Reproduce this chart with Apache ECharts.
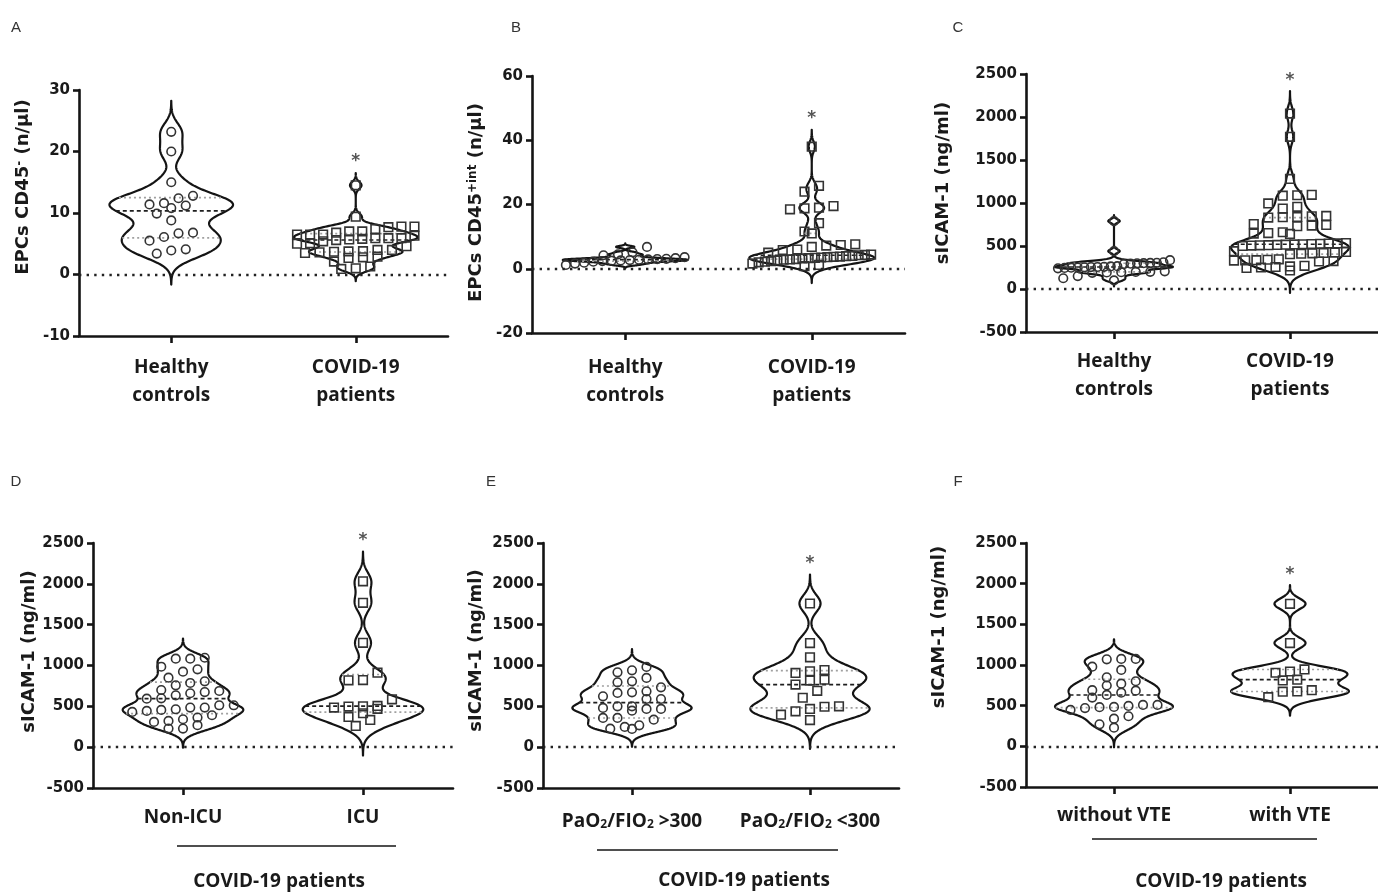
<!DOCTYPE html>
<html>
<head>
<meta charset="utf-8">
<title>EPCs and sICAM-1 violin plots</title>
<script src="https://cdn.jsdelivr.net/npm/echarts@6/dist/echarts.min.js"></script>
<style>
  html, body { margin: 0; padding: 0; background: #ffffff; }
  #chart { width: 1378px; height: 893px; }
</style>
</head>
<body>
<div id="chart"></div>
<script>
// ---------------------------------------------------------------
// Measured values (one array per group)
// ---------------------------------------------------------------
const panelLetters = ['A', 'B', 'C', 'D', 'E', 'F'];

const catsControlVsCovid = ['Healthy\ncontrols', 'COVID-19\npatients'];
const catsIcu = ['Non-ICU', 'ICU'];
const catsPaO2 = ['PaO₂/FIO₂ >300', 'PaO₂/FIO₂ <300'];
const catsVte = ['without VTE', 'with VTE'];
const subgroupCaption = 'COVID-19 patients';

// Panel A: EPCs CD45- (n/µl)
const epcNegHealthy = [23.2, 20.0, 15.0, 12.8, 12.4, 11.6, 11.4, 11.2, 10.8, 9.9, 8.8, 6.8, 6.7, 6.1, 5.5, 4.1, 3.9, 3.4];
const epcNegCovid = [14.5, 9.4, 7.8, 7.8, 7.7, 7.4, 7.0, 7.0, 6.8, 6.5, 6.5, 6.5, 6.3, 5.9, 5.9, 5.9, 5.8, 5.7, 5.6, 5.4, 5.1, 5.0, 4.6, 4.0, 4.0, 3.8, 3.75, 3.7, 3.6, 3.5, 2.9, 2.8, 2.7, 2.1, 1.3, 1.0, 0.9];

// Panel B: EPCs CD45+int (n/µl)
const epcIntHealthy = [6.8, 5.1, 4.5, 4.2, 3.6, 3.3, 3.1, 3.0, 2.9, 2.8, 2.7, 2.6, 2.5, 2.4, 2.2, 1.9, 1.6, 1.2];
const epcIntCovid = [38.0, 25.8, 24.0, 19.5, 19.0, 18.8, 18.5, 14.2, 11.6, 11.0, 7.6, 7.4, 7.2, 6.8, 6.0, 5.8, 5.0, 4.4, 4.3, 4.2, 4.0, 3.9, 3.8, 3.7, 3.6, 3.5, 3.4, 3.3, 3.2, 3.0, 2.9, 2.8, 2.6, 2.4, 2.2, 2.0, 1.6, 1.2, 0.8];

// Panel C: sICAM-1 (ng/ml), controls vs patients
const icamHealthy = [790, 440, 335, 310, 305, 303, 300, 298, 295, 290, 265, 262, 258, 256, 255, 252, 250, 248, 245, 240, 205, 200, 198, 195, 192, 188, 150, 125, 100];
const icamCovid = [2040, 1770, 1280, 1095, 1090, 1085, 995, 955, 935, 850, 845, 838, 835, 830, 755, 745, 738, 730, 660, 650, 645, 640, 535, 530, 528, 525, 522, 520, 518, 515, 512, 510, 508, 505, 500, 440, 430, 425, 420, 415, 410, 405, 345, 340, 335, 333, 330, 325, 320, 270, 262, 256, 250, 245, 215];

// Panel D: sICAM-1 by ICU admission
const icamNonIcu = [1095, 1083, 1083, 985, 953, 925, 851, 806, 786, 757, 700, 688, 675, 660, 635, 598, 594, 513, 513, 485, 485, 464, 456, 444, 431, 391, 363, 342, 321, 309, 269, 228, 228];
const icamIcu = [2031, 1767, 1278, 912, 822, 818, 586, 505, 500, 497, 485, 470, 415, 370, 333, 260];

// Panel E: sICAM-1 by PaO2/FIO2
const icamPaoHigh = [983, 941, 917, 848, 806, 794, 733, 684, 672, 664, 623, 590, 590, 500, 500, 480, 468, 468, 447, 358, 358, 337, 267, 248, 227, 223];
const icamPaoLow = [1759, 1275, 1100, 945, 929, 909, 827, 815, 766, 690, 605, 500, 495, 468, 439, 398, 332];

// Panel F: sICAM-1 by venous thromboembolism
const icamNoVte = [1075, 1075, 1070, 979, 940, 849, 800, 770, 748, 690, 684, 660, 632, 600, 509, 509, 497, 485, 481, 470, 448, 370, 340, 270, 230];
const icamVte = [1752, 1270, 945, 920, 905, 820, 810, 690, 675, 672, 605];

// Axis titles (rich text for the superscripts)
const titleEpcNeg = '{m|EPCs CD45}{sup|-}{m| (n/µl)}';
const titleEpcInt = '{m|EPCs CD45}{sup|+int}{m| (n/µl)}';
const titleIcam = '{m|sICAM-1 (ng/ml)}';

// ---------------------------------------------------------------
// Styling and layout
// ---------------------------------------------------------------
const INK = '#141414';
const NUM_FONT = 'DejaVu Sans';
const CAT_FONT = 'Open Sans';
const STEPS = 260;        // samples along each violin outline
const ROW_PX = 9;         // vertical extent of a row of dots
const DOT_GAP = 14.5;     // horizontal spacing of dots within a row
const DOT_R = 4.3;
const BW_SCALE = 0.6;     // kernel bandwidth relative to Silverman's rule
const TAIL = 3.4;         // outline reach beyond the extreme values, in bandwidths

const panels = [
  { letter: 'A', grid: { left: 79, top: 90, width: 369, height: 246 }, cats: catsControlVsCovid,
    groups: [epcNegHealthy, epcNegCovid], y: [-10, 30, 10], title: titleEpcNeg, nameGap: 43, nameShift: 52,
    labelMargin: 18, letterPos: [16, 28] },
  { letter: 'B', grid: { left: 532, top: 76, width: 373, height: 257 }, cats: catsControlVsCovid,
    groups: [epcIntHealthy, epcIntCovid], y: [-20, 60, 20], title: titleEpcInt, nameGap: 43, nameShift: 4,
    labelMargin: 21, letterPos: [516, 28] },
  { letter: 'C', grid: { left: 1026, top: 74, width: 356, height: 258 }, cats: catsControlVsCovid,
    groups: [icamHealthy, icamCovid], y: [-500, 2500, 500], title: titleIcam, nameGap: 70, nameShift: 40,
    labelMargin: 16, letterPos: [958, 28] },
  { letter: 'D', grid: { left: 93, top: 543, width: 360, height: 245 }, cats: catsIcu,
    groups: [icamNonIcu, icamIcu], y: [-500, 2500, 500], title: titleIcam, nameGap: 46, nameShift: 28,
    labelMargin: 16, letterPos: [16, 482], bracket: [177, 396, 846], caption: [279, 882] },
  { letter: 'E', grid: { left: 543, top: 543, width: 356, height: 245 }, cats: catsPaO2,
    groups: [icamPaoHigh, icamPaoLow], y: [-500, 2500, 500], title: titleIcam, nameGap: 54, nameShift: 30,
    labelMargin: 15, letterPos: [491, 482], bracket: [597, 838, 850], caption: [744, 881] },
  { letter: 'F', grid: { left: 1026, top: 543, width: 356, height: 244 }, cats: catsVte,
    groups: [icamNoVte, icamVte], y: [-500, 2500, 500], title: titleIcam, nameGap: 74, nameShift: 76,
    labelMargin: 15, letterPos: [958, 482], bracket: [1092, 1317, 839], caption: [1221, 882] }
];

// ---------------------------------------------------------------
// Statistics: quartiles (n+1)p and a Gaussian kernel density
// ---------------------------------------------------------------
function summarize(vals) {
  const s = vals.slice().sort((a, b) => a - b);
  const n = s.length;
  const mean = s.reduce((a, b) => a + b, 0) / n;
  const sd = Math.sqrt(s.reduce((a, b) => a + (b - mean) * (b - mean), 0) / (n - 1));
  const q = p => {
    const pos = (n + 1) * p;
    if (pos <= 1) return s[0];
    if (pos >= n) return s[n - 1];
    const i = Math.floor(pos);
    return s[i - 1] + (pos - i) * (s[i] - s[i - 1]);
  };
  const q1 = q(0.25), med = q(0.5), q3 = q(0.75);
  const spread = Math.min(sd, (q3 - q1) / 1.34) || sd;
  const h = BW_SCALE * 0.9 * spread * Math.pow(n, -0.2);
  const lo = s[0] - TAIL * h, hi = s[n - 1] + TAIL * h;
  const dens = y => {
    let t = 0;
    for (const v of s) { const z = (y - v) / h; t += Math.exp(-0.5 * z * z); }
    return t;
  };
  let maxD = 0;
  for (let k = 0; k <= STEPS; k++) {
    const d = dens(lo + (hi - lo) * k / STEPS);
    if (d > maxD) maxD = d;
  }
  return { s, n, q1, med, q3, h, lo, hi, dens, maxD };
}

function marker(kind, x, y) {
  const style = { fill: 'none', stroke: '#333333', lineWidth: 1.6 };
  if (kind === 'circle') {
    return { type: 'circle', shape: { cx: x, cy: y, r: DOT_R }, style, z2: 5 };
  }
  return { type: 'rect', shape: { x: x - DOT_R, y: y - DOT_R, width: DOT_R * 2, height: DOT_R * 2 }, style, z2: 5 };
}

// Violin outline, median/quartile lines, dots and significance mark
function violinRenderer(groups, starGroup) {
  const stats = groups.map(summarize);
  const kinds = ['circle', 'rect'];
  return function (params, api) {
    const gi = api.value(0);
    const st = stats[gi];
    const band = api.size([1, 0])[0];
    const W = band * 0.335;
    const cx = api.coord([gi, 0])[0];
    const halfWidth = y => st.dens(y) / st.maxD * W;

    const right = [], left = [];
    for (let k = 0; k <= STEPS; k++) {
      const y = st.lo + (st.hi - st.lo) * k / STEPS;
      const py = api.coord([gi, y])[1];
      const w = halfWidth(y);
      right.push([cx + w, py]);
      left.push([cx - w, py]);
    }
    const children = [{
      type: 'polygon',
      shape: { points: right.concat(left.reverse()) },
      style: { fill: 'none', stroke: INK, lineWidth: 2.2, lineJoin: 'round' },
      z2: 2
    }];

    const hline = (v, style) => {
      const py = api.coord([gi, v])[1];
      const w = halfWidth(v);
      children.push({ type: 'line', shape: { x1: cx - w, y1: py, x2: cx + w, y2: py }, style, z2: 3 });
    };
    hline(st.q1, { stroke: '#a0a0a0', lineWidth: 1.6, lineDash: [2, 3] });
    hline(st.q3, { stroke: '#a0a0a0', lineWidth: 1.6, lineDash: [2, 3] });
    hline(st.med, { stroke: '#1e1e1e', lineWidth: 1.6, lineDash: [4, 3] });

    // rows of dots, spread sideways around the group centre
    const pts = groups[gi].map(v => ({ v, y: api.coord([gi, v])[1] })).sort((a, b) => b.v - a.v);
    const rows = [];
    let cur = null;
    for (const p of pts) {
      if (!cur || p.y - cur.y0 > ROW_PX) { cur = { y0: p.y, items: [] }; rows.push(cur); }
      cur.items.push(p);
    }
    for (const row of rows) {
      const k = row.items.length;
      const items = row.items.slice().sort((a, b) => a.v - b.v);
      let gap = DOT_GAP;
      if (k > 1 && (k - 1) * gap > 2 * W * 0.95) gap = 2 * W * 0.95 / (k - 1);
      items.forEach((p, j) => children.push(marker(kinds[gi], cx + (j - (k - 1) / 2) * gap, p.y)));
    }

    if (gi === starGroup) {
      const top = api.coord([gi, st.hi])[1];
      children.push({
        type: 'text', z2: 6,
        style: { text: '*', x: cx, y: top - 11, textAlign: 'center', textVerticalAlign: 'middle',
                 font: 'bold 17px "DejaVu Sans"', fill: '#555555' }
      });
    }
    return { type: 'group', children };
  };
}

// ---------------------------------------------------------------
// Chart option
// ---------------------------------------------------------------
const axisLineStyle = { color: INK, width: 2.6 };
const grids = [], xAxes = [], yAxes = [], series = [], graphics = [];

panels.forEach((p, i) => {
  grids.push(Object.assign({ containLabel: false }, p.grid));

  xAxes.push({
    gridIndex: i, type: 'category', data: p.cats, boundaryGap: true,
    axisLine: { show: true, onZero: false, lineStyle: axisLineStyle },
    axisTick: { show: true, alignWithLabel: true, length: 7, lineStyle: { color: INK, width: 2.6 } },
    axisLabel: {
      interval: 0, margin: p.labelMargin, color: '#1a1a1a',
      fontFamily: CAT_FONT, fontWeight: 'bold', fontSize: 19, lineHeight: 28,
      formatter: v => v.indexOf('₂') >= 0 ? v.split('₂').map(t => '{m|' + t + '}').join('{sub|2}') : v,
      rich: {
        m: { fontFamily: CAT_FONT, fontWeight: 'bold', fontSize: 19, lineHeight: 28, verticalAlign: 'bottom', color: '#1a1a1a' },
        sub: { fontFamily: CAT_FONT, fontWeight: 'bold', fontSize: 12, lineHeight: 13, verticalAlign: 'bottom', color: '#1a1a1a' }
      }
    },
    splitLine: { show: false }
  });

  yAxes.push({
    gridIndex: i, type: 'value', min: p.y[0], max: p.y[1], interval: p.y[2],
    axisLine: { show: true, onZero: false, lineStyle: axisLineStyle },
    axisTick: { show: true, length: 6, lineStyle: { color: INK, width: 2.6 } },
    axisLabel: { fontFamily: NUM_FONT, fontWeight: 'bold', fontSize: 15, color: '#1a1a1a', margin: 9,
                 formatter: v => String(v) },
    splitLine: { show: false },
    name: p.title, nameLocation: 'middle', nameRotate: 90, nameGap: p.nameGap,
    nameTextStyle: {
      padding: [0, 0, 0, p.nameShift],
      rich: {
        m: { fontFamily: NUM_FONT, fontWeight: 'bold', fontSize: 18, lineHeight: 22, verticalAlign: 'top', color: '#1a1a1a' },
        sup: { fontFamily: NUM_FONT, fontWeight: 'bold', fontSize: 12, lineHeight: 12, verticalAlign: 'top', color: '#1a1a1a' }
      }
    }
  });

  series.push({
    type: 'custom', name: p.letter, xAxisIndex: i, yAxisIndex: i,
    clip: false, silent: true,
    renderItem: violinRenderer(p.groups, 1),
    encode: { x: 0, y: 1 },
    data: p.groups.map((g, gi) => [gi, summarize(g).med]),
    markLine: {
      silent: true, symbol: 'none', animation: false,
      label: { show: false },
      lineStyle: { color: '#222222', width: 2.4, type: [2.4, 5.2] },
      data: [{ yAxis: 0 }]
    }
  });

  graphics.push({
    type: 'text', x: p.letterPos[0], y: p.letterPos[1],
    style: { text: p.letter, font: '15px "Liberation Sans"', fill: '#333333', textAlign: 'center', textVerticalAlign: 'middle' }
  });
  if (p.bracket) {
    graphics.push({
      type: 'line', shape: { x1: p.bracket[0], y1: p.bracket[2], x2: p.bracket[1], y2: p.bracket[2] },
      style: { stroke: INK, lineWidth: 1.6 }
    });
    graphics.push({
      type: 'text', x: p.caption[0], y: p.caption[1],
      style: { text: subgroupCaption, font: 'bold 19px "Open Sans"', fill: '#1a1a1a', textAlign: 'center', textVerticalAlign: 'middle' }
    });
  }
});

const chart = echarts.init(document.getElementById('chart'), null, { renderer: 'canvas' });
chart.setOption({
  animation: false,
  backgroundColor: '#ffffff',
  grid: grids,
  xAxis: xAxes,
  yAxis: yAxes,
  series: series,
  graphic: graphics
});
</script>
</body>
</html>
